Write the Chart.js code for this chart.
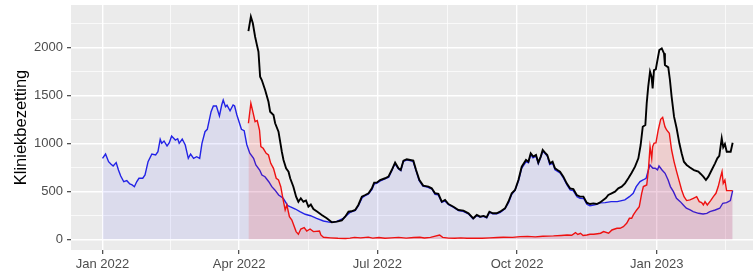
<!DOCTYPE html>
<html><head><meta charset="utf-8">
<script src="https://cdn.jsdelivr.net/npm/chart.js@4/dist/chart.umd.min.js"></script>
<style>html,body{margin:0;padding:0;background:#fff;overflow:hidden}</style>
</head><body>
<canvas id="c" width="753" height="273" style="display:block;width:753px;height:273px"></canvas>
<script>
// x values are days since 1 Jan 2022
const xMajorDays = [0, 90, 181, 273, 365];
const xMajorLabels = ['Jan 2022', 'Apr 2022', 'Jul 2022', 'Oct 2022', 'Jan 2023'];
const xMinorDays = [45, 135.5, 227, 319, 410];
const yMajor = [0, 500, 1000, 1500, 2000];
const yMinor = [250, 750, 1250, 1750, 2250];
const yTitle = 'Kliniekbezetting';

const blueSeries = [[0,845],[2,890],[4,810],[5.5,786],[7,765],[9,800],[10.5,723],[12,661],[14,601],[16,612],[18,577],[19.5,567],[21,549],[22.5,600],[24,637],[26.5,637],[28,671],[30,810],[32.5,890],[35,880],[36.5,914],[38,1044],[39,1002],[40.5,1026],[42.5,974],[44,1008],[45.5,1078],[48,1036],[49.5,1050],[50.5,1002],[52.5,1047],[54.5,984],[56.5,845],[58,890],[60,845],[62,862],[64,845],[65.5,1002],[67.5,1123],[69,1148],[71.5,1332],[73,1391],[75,1391],[77,1287],[78.5,1402],[79.5,1454],[81,1384],[82,1400],[84,1342],[86,1402],[87,1391],[88.5,1298],[91.5,1148],[93.3,1134],[95,990],[97,898],[99.5,845],[101,776],[103.5,723],[105,671],[107,653],[109.5,601],[111.5,549],[113.5,515],[116,462],[119,428],[122,351],[123.5,340],[127,316],[130,288],[133.5,261],[137,246],[141,219],[145.5,191],[150,177],[154,184],[158.5,219],[163,280],[166.5,300],[168.5,350],[171,435],[173,455],[175,470],[177.5,520],[179,580],[180.5,585],[183,610],[186,630],[188.5,648],[190.5,715],[192.5,790],[195,735],[196.5,718],[198,812],[200.5,828],[202.5,822],[204.5,815],[206.5,718],[208.5,615],[211,555],[214,545],[217,525],[219,470],[221,465],[223.5,385],[225.5,400],[228,360],[231,335],[234.5,300],[237.5,292],[241,265],[244,215],[246.5,248],[248.5,232],[251,240],[253,225],[255,282],[257,266],[259.5,266],[262,282],[265,318],[267.5,385],[269.5,470],[271.5,508],[274,610],[276,740],[279,812],[280.5,800],[282,885],[283.5,850],[285.5,868],[287,790],[288.5,850],[290,920],[291.5,895],[293,865],[294.5,780],[296.5,795],[298,725],[299.5,710],[301.5,690],[303.5,640],[306,565],[308,515],[310,508],[312.5,445],[314.5,428],[317,425],[319,365],[321,350],[323.5,358],[325.5,365],[327.5,380],[331,383],[335,393],[339,393],[344,411],[347,445],[349.5,480],[351.5,550],[354,602],[356,619],[358,637],[359.5,724],[360.5,776],[362.5,741],[364,741],[365.5,724],[366.5,765],[368.5,724],[370.5,689],[372.5,619],[374,550],[376,497],[378,428],[380.5,393],[382.5,358],[384.5,324],[387,306],[389,289],[392.5,271],[395.5,264],[398,271],[400,289],[403.5,306],[406.5,324],[408.5,376],[411,383],[413.5,404],[415,508]];

const redSeries = [[96.1,1211],[97.7,1420],[99,1332],[100.5,1228],[101.9,1240],[103.4,1141],[104.3,967],[105.8,950],[107.8,898],[109.3,880],[110.8,793],[112.6,741],[114.4,637],[115.9,620],[117.4,549],[118.8,428],[120.3,306],[121.4,358],[123.1,236],[124.7,201],[127.5,80],[129,52],[130.6,107],[132.8,121],[134.5,86],[136.7,107],[138.9,80],[142.9,86],[143.8,45],[145.5,21],[150,15],[155,10],[160,8],[163,12],[166,20],[170,15],[175,22],[178,12],[182,18],[186,10],[190,15],[195,20],[200,12],[205,18],[209,21],[212,14],[216,20],[222,45],[224,20],[228,12],[232,10],[236,15],[240,10],[245,12],[250,10],[255,15],[260,18],[264,21],[270,20],[275,28],[280,30],[285,25],[290,32],[297,35],[302,40],[306,45],[309,42],[311.5,70],[313,50],[314.8,63],[316.5,40],[319,45],[321,52],[323.5,52],[326,58],[328,63],[330,80],[333.3,63],[335.5,97],[338.8,115],[340.8,115],[343,132],[345.2,167],[347,219],[348.5,219],[349.6,254],[351.8,306],[353.5,341],[355.1,480],[356.2,550],[358.4,567],[359.5,724],[360.6,967],[361.7,845],[362.3,967],[363.2,1002],[364.5,1009],[366,1141],[367.6,1253],[368.9,1273],[370.4,1176],[371.5,1141],[373.3,1106],[374.8,932],[376.4,811],[378.1,706],[379.9,602],[381.4,515],[383,445],[384.7,404],[386.9,411],[389.1,428],[391.3,445],[393,393],[394.6,383],[395.7,358],[396.8,393],[398.3,358],[400.5,404],[402.3,445],[404,480],[405.5,550],[407.1,654],[408,706],[408.8,584],[409.9,619],[411,508],[413.2,508],[415,508]];

const blackSeries = [[96.1,2174],[97.7,2324],[99,2255],[100.5,2115],[101.6,2035],[102.7,1958],[103.8,1697],[104.9,1663],[107.1,1558],[109.3,1436],[110.4,1332],[112.6,1298],[113.7,1211],[115.9,1123],[117,1019],[118.1,914],[119.2,828],[120.9,741],[122.5,706],[123.6,637],[125.7,549],[127.5,445],[129,392],[130.6,428],[132.3,392],[134,405],[135.6,340],[137.2,363],[138.9,316],[141.5,288],[144.4,254],[147.7,219],[151,177],[154.3,184],[157.6,198],[159.8,236],[162,288],[164,292],[166.4,306],[168.5,358],[170.8,445],[173,462],[175.2,480],[177.4,532],[178.9,591],[180.6,591],[182.8,619],[186.1,637],[188.3,654],[190.5,723],[192.7,800],[194.9,741],[196.4,723],[198.2,821],[200.4,835],[202.6,828],[204.7,821],[206.5,723],[208.7,619],[211.2,560],[214.6,549],[216.8,532],[219,480],[221.2,475],[223.4,392],[225.6,410],[227.8,368],[231.1,340],[234.4,306],[237.7,299],[241,271],[244.2,219],[246.5,254],[248.7,236],[250.9,244],[253,230],[254.8,288],[257,271],[259.6,271],[261.8,288],[265.1,323],[267.3,392],[269.5,480],[271.7,515],[273.9,619],[276.1,758],[278.9,828],[280.5,810],[282,898],[283.7,863],[285.5,880],[287,800],[288.6,863],[289.9,932],[291.4,905],[292.9,880],[294.7,793],[296.4,810],[298,741],[299.6,723],[301.3,706],[303.5,654],[305.7,584],[307.9,532],[310.1,525],[312.3,462],[314.5,445],[316.7,445],[318.9,382],[321.1,368],[323.3,375],[325.5,368],[327.7,385],[329.8,410],[331.5,430],[333.1,462],[335.3,480],[337.5,497],[339.7,532],[341.9,549],[344.1,584],[346.3,637],[348.5,695],[350.7,758],[352.9,845],[354.4,984],[355.8,1175],[357.5,1193],[358.4,1420],[359.4,1593],[360.6,1750],[361.6,1697],[362.3,1576],[363.2,1767],[364.4,1775],[365.3,1854],[366.7,1976],[368.3,1993],[369.8,1941],[370.4,1819],[372.6,1795],[373.7,1663],[374.8,1489],[376.4,1280],[378.1,1159],[379.9,1002],[381.4,898],[382.9,810],[384.7,776],[386.9,750],[389.5,723],[392.4,706],[394,682],[395.7,654],[397.4,619],[399,654],[401.2,723],[403.4,793],[404.9,845],[406.2,870],[407.8,1054],[408.8,960],[409.9,995],[411.1,914],[413.7,914],[415,1008]];

const toPts = s => s.map(p => ({x: p[0], y: p[1]}));
const FONT = "'Liberation Sans', Arial, Helvetica, sans-serif";

const panelBg = {
  id: 'panelBg',
  beforeDraw(chart) {
    const {ctx, chartArea: a} = chart;
    ctx.save();
    ctx.fillStyle = '#EBEBEB';
    ctx.fillRect(a.left, a.top, a.right - a.left, a.bottom - a.top);
    ctx.restore();
  }
};

const noPad = s => { s.paddingTop = 0; s.paddingBottom = 0; s.paddingLeft = 0; s.paddingRight = 0; };
const xAll = xMajorDays.concat(xMinorDays).sort((a, b) => a - b);
const yAll = yMajor.concat(yMinor).sort((a, b) => a - b);

new Chart(document.getElementById('c'), {
  type: 'line',
  data: {
    datasets: [
      {data: toPts(blackSeries), borderColor: '#000000', borderWidth: 1.9, fill: false, pointRadius: 0, tension: 0},
      {data: toPts(redSeries), borderColor: '#EE1111', borderWidth: 1.4, backgroundColor: 'rgba(255,0,0,0.12)', fill: 'origin', pointRadius: 0, tension: 0},
      {data: toPts(blueSeries), borderColor: '#2222E6', borderWidth: 1.4, backgroundColor: 'rgba(0,0,255,0.065)', fill: 'origin', pointRadius: 0, tension: 0}
    ]
  },
  options: {
    responsive: false,
    animation: false,
    devicePixelRatio: 1,
    layout: {padding: {top: 5, right: 0, bottom: 0, left: 0}},
    plugins: {legend: {display: false}, tooltip: {enabled: false}},
    scales: {
      x: {
        type: 'linear', min: -20.75, max: 428.4,
        afterBuildTicks: s => { s.ticks = xAll.map(v => ({value: v})); },
        afterFit: s => { s.height = 23; noPad(s); },
        border: {display: false},
        grid: {
          color: '#FFFFFF',
          lineWidth: c => xMajorDays.includes(c.tick && c.tick.value) ? 1.4 : 0.7,
          drawTicks: true, tickLength: 4, tickWidth: 1.1,
          tickColor: c => xMajorDays.includes(c.tick && c.tick.value) ? '#333333' : 'rgba(0,0,0,0)'
        },
        ticks: {
          autoSkip: false, maxRotation: 0, minRotation: 0, padding: 2.5,
          color: '#4D4D4D', font: {family: FONT, size: 13},
          callback: v => { const i = xMajorDays.indexOf(v); return i >= 0 ? xMajorLabels[i] : ''; }
        }
      },
      y: {
        type: 'linear', min: -112, max: 2446,
        afterBuildTicks: s => { s.ticks = yAll.map(v => ({value: v})); },
        afterFit: s => { s.width = 71; noPad(s); },
        border: {display: false},
        grid: {
          color: '#FFFFFF',
          lineWidth: c => yMajor.includes(c.tick && c.tick.value) ? 1.4 : 0.7,
          drawTicks: true, tickLength: 4, tickWidth: 1.1,
          tickColor: c => yMajor.includes(c.tick && c.tick.value) ? '#333333' : 'rgba(0,0,0,0)'
        },
        ticks: {
          autoSkip: false, padding: 4,
          color: '#4D4D4D', font: {family: FONT, size: 13},
          callback: v => yMajor.includes(v) ? String(v) : ''
        },
        title: {
          display: true, text: yTitle, color: '#000000',
          font: {family: FONT, size: 16.5}, padding: {top: 11.6, bottom: 0}
        }
      }
    }
  },
  plugins: [panelBg]
});
</script>
</body></html>
